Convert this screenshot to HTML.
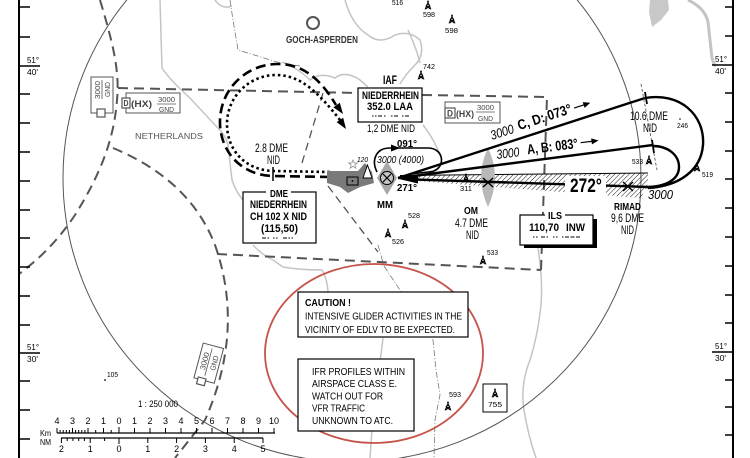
<!DOCTYPE html>
<html><head><meta charset="utf-8">
<style>
html,body{margin:0;padding:0;background:#fff;}
svg{display:block;}
text{font-family:"Liberation Sans Narrow","Liberation Sans",sans-serif;fill:#000;}
.b{font-weight:bold;}
.i{font-style:italic;}
</style></head><body>
<svg width="750" height="458" viewBox="0 0 750 458" xmlns="http://www.w3.org/2000/svg">
<defs>
<pattern id="hatch" patternUnits="userSpaceOnUse" width="3.4" height="3.4" patternTransform="rotate(45)">
<line x1="0" y1="0" x2="0" y2="3.4" stroke="#000" stroke-width="0.9"/>
</pattern>
<g id="ob">
<path d="M-3,4.5 L0,-3 L3,4.5 M-2.2,2 L2.2,2 M-1.5,-0.3 L1.5,-0.3 M-2,0 L2,4 M2,0 L-2,4" stroke="#000" stroke-width="0.9" fill="none"/>
<circle cx="0" cy="-3.6" r="0.9" fill="#000"/>
</g>
</defs>
<rect width="750" height="458" fill="#fff"/>

<!-- light gray rivers / coast -->
<g fill="none" stroke="#c4c4c4" stroke-width="1.5">
<path d="M160,0 L162,68 Q170,80 190,98 L215,125 Q226,135 228,145 L232,180 Q236,192 243,200"/>
<path d="M253,245 Q262,255 273,260 L283,267 Q300,270 322,270 Q327,278 328,292"/>
<path d="M383,338 Q381,357 377,380 Q372,405 372,430 L370,458"/>
<path d="M538,248 Q543,280 541,305 Q538,335 530,360 Q520,385 524,410 Q528,435 536,458"/>
<path d="M283,62 Q300,70 310,80 Q320,72 335,78 Q345,70 360,80 L368,87"/>
<path d="M345,0 Q352,25 368,35 Q380,45 395,35 Q410,30 420,40 Q425,55 415,65 Q405,75 400,84"/>
<path d="M215,0 Q222,10 232,6"/>
<path d="M408,30 Q417,50 420,63"/>
<path d="M423,125 Q435,140 442,160"/>
<path d="M688,0 Q705,8 708,22 L712,58 Q714,65 716,66" stroke-width="3"/>
</g>
<path d="M650,0 L668,0 L669,10 L661,20 L652,27 L649,12 Z" fill="#c8c8c8"/>
<!-- thin dash-dot borders -->
<g fill="none" stroke="#777" stroke-width="0.8" stroke-dasharray="6 2 1 2">
<path d="M230,0 L233,20 L238,50 L277,62 L300,66"/>
<path d="M378,245 L384,266 L400,290 L420,315 L433,340 L436,370 L440,395 L435,420 L434,458"/>
</g>

<!-- big thin circle -->
<ellipse cx="352" cy="178" rx="289" ry="284" fill="none" stroke="#555" stroke-width="1"/>

<!-- airspace dashed lines -->
<g fill="none" stroke="#555" stroke-width="2" stroke-dasharray="10 6">
<path d="M100,0 C112,40 120,70 117,100 C114,140 100,175 75,215 C55,245 35,262 19,274"/>
<path d="M118,88 L357,93 M422,95 L547,97 L541,270"/>
<path d="M217,254 L541,270"/>
<path d="M113,148 Q190,180 215,245 Q245,330 205,420 L175,458"/>
</g>
<g fill="none" stroke="#555" stroke-width="1.3" stroke-dasharray="8 5">
<path d="M323,93 L302,163"/>
<path d="M328,186 L378,252"/>
</g>

<!-- red ellipse -->
<ellipse cx="374" cy="353.5" rx="109" ry="89.5" fill="none" stroke="#c5534a" stroke-width="1.8"/>

<!-- holding loops -->
<path d="M330,177 L273,176 C238,175 219,148 220,120 C221,88 247,64 278,64 C302,64 320,78 336,105" fill="none" stroke="#000" stroke-width="2.6" stroke-dasharray="10 5"/>
<polygon points="343,114 333.4,107.4 339.8,102.8" fill="#000"/>
<path d="M330,172 L273,171 C245,170 227,150 227,124 C227,96 250,75 276,75 C298,75 315,88 340,120" fill="none" stroke="#000" stroke-width="2.6" stroke-dasharray="2.5 3"/>
<polygon points="346,129 336.6,122.1 343.2,117.7" fill="#000"/>
<line x1="273" y1="167" x2="273" y2="181" stroke="#000" stroke-width="1.5"/>

<!-- hatch wedge -->
<polygon points="402,176 648,173 648,183 641,198 402,180" fill="url(#hatch)"/>
<line x1="400" y1="175.5" x2="648" y2="173" stroke="#000" stroke-width="1"/>
<rect x="565" y="176" width="41" height="20" fill="#fff"/>

<!-- OM lens -->
<path d="M488,148 Q502,177 488,207 Q474,177 488,148 Z" fill="#b8b8b8"/>

<!-- airport -->
<polygon points="327,171 358,171 365,163 372,172 374,183 360,187 348,193 340,187 327,183" fill="#7a7a7a"/>
<rect x="347" y="177" width="11" height="8" fill="none" stroke="#000" stroke-width="1"/>
<circle cx="352.5" cy="181" r="0.9" fill="#000"/>
<polygon points="363,178 367.5,165 372,178" fill="#fff" stroke="#000" stroke-width="0.9"/>
<path d="M353,160 l1.2,3 3.2,0 -2.6,2 1,3.2 -2.8,-2 -2.8,2 1,-3.2 -2.6,-2 3.2,0 z" fill="none" stroke="#888" stroke-width="0.7"/>
<text x="357" y="162" font-size="7.5" class="i" textLength="11" lengthAdjust="spacingAndGlyphs">120</text>

<!-- MM -->
<polygon points="387,161 397,178 387,195 377,178" fill="#a8a8a8"/>
<circle cx="387" cy="178" r="6.5" fill="#c4c4c4" stroke="#000" stroke-width="1"/>
<path d="M383,174 L391,182 M391,174 L383,182" stroke="#000" stroke-width="1.2"/>

<!-- 091 racetrack -->
<path d="M377,172 C371,160 376,148 390,148 L428,148 C446,148 446,172 428,172 L410,174" fill="none" stroke="#000" stroke-width="1.6"/>
<polygon points="400,148 391,144.5 391,151.5" fill="#000"/>

<!-- approach lines -->
<g stroke="#000" stroke-width="2.4" fill="none">
<path d="M398,178 L645,98"/>
<path d="M398,178 L653,145"/>
<path d="M648,187 L606,185.6 M565,184.3 L412,179.4"/>
<path d="M645,98 C680,92 705,115 703,145 C701,170 680,186 648,188"/>
<path d="M653,146 C668,146 679,155 679,167 C679,180 665,187 645,187"/>
</g>
<polygon points="399,179 418,175 418,183.5" fill="#000"/>
<path d="M641,84 L657,170" stroke="#444" stroke-width="0.8" stroke-dasharray="3 2" fill="none"/>
<path d="M645,92 L647,104 M652,140 L654,153" stroke="#000" stroke-width="1.8"/>

<!-- X marks -->
<path d="M483,178 L493,187 M493,178 L483,187" stroke="#000" stroke-width="1.5"/>
<path d="M623,182 L633,191 M633,182 L623,191" stroke="#000" stroke-width="1.5"/>

<!-- rotated course texts -->
<g transform="translate(492,140) rotate(-18)">
<text x="0" y="0" font-size="13" class="i" textLength="24" lengthAdjust="spacingAndGlyphs">3000</text>
<text x="29" y="-1" font-size="14" class="b" textLength="56" lengthAdjust="spacingAndGlyphs">C, D: 073°</text>
<line x1="88" y1="-5" x2="100" y2="-5" stroke="#000" stroke-width="1.2"/>
<polygon points="105,-5 98,-8 98,-2" fill="#000"/>
</g>
<g transform="translate(497,159) rotate(-7)">
<text x="0" y="0" font-size="13" class="i" textLength="23" lengthAdjust="spacingAndGlyphs">3000</text>
<text x="31" y="-1" font-size="14" class="b" textLength="51" lengthAdjust="spacingAndGlyphs">A, B: 083°</text>
<line x1="85" y1="-6" x2="98" y2="-6" stroke="#000" stroke-width="1.2"/>
<polygon points="103,-6 96,-9 96,-3" fill="#000"/>
</g>
<text x="570" y="192" font-size="19" class="b" textLength="32" lengthAdjust="spacingAndGlyphs">272°</text>
<text x="648" y="199" font-size="12.5" class="i" textLength="25" lengthAdjust="spacingAndGlyphs">3000</text>

<!-- labels near MM -->
<text x="397" y="147" font-size="10.5" class="b" textLength="20" lengthAdjust="spacingAndGlyphs">091°</text>
<text x="377" y="163" font-size="10.5" class="i" textLength="47" lengthAdjust="spacingAndGlyphs">3000 (4000)</text>
<text x="397" y="191" font-size="10.5" class="b" textLength="20" lengthAdjust="spacingAndGlyphs">271°</text>
<text x="377" y="208" font-size="10" class="b" textLength="16" lengthAdjust="spacingAndGlyphs">MM</text>

<!-- OM / RIMAD / 10.6 labels -->
<text x="464" y="214" font-size="10" class="b" textLength="14" lengthAdjust="spacingAndGlyphs">OM</text>
<text x="455" y="227" font-size="11.5" textLength="33" lengthAdjust="spacingAndGlyphs">4.7 DME</text>
<text x="466" y="239" font-size="11.5" textLength="13" lengthAdjust="spacingAndGlyphs">NID</text>
<text x="614" y="210" font-size="10" class="b" textLength="27" lengthAdjust="spacingAndGlyphs">RIMAD</text>
<text x="611" y="222" font-size="11.5" textLength="33" lengthAdjust="spacingAndGlyphs">9,6 DME</text>
<text x="621" y="234" font-size="11.5" textLength="13" lengthAdjust="spacingAndGlyphs">NID</text>
<text x="630" y="120" font-size="11.5" textLength="38" lengthAdjust="spacingAndGlyphs">10.6 DME</text>
<text x="643" y="132" font-size="11.5" textLength="14" lengthAdjust="spacingAndGlyphs">NID</text>
<text x="255" y="152" font-size="11.5" textLength="33" lengthAdjust="spacingAndGlyphs">2.8 DME</text>
<text x="267" y="164" font-size="11.5" textLength="13" lengthAdjust="spacingAndGlyphs">NID</text>

<!-- obstacles -->
<g font-size="7">
<use href="#ob" x="428" y="5"/><text x="423" y="17" textLength="12" lengthAdjust="spacingAndGlyphs">598</text>
<use href="#ob" x="452" y="19"/><text x="445" y="33" textLength="13" lengthAdjust="spacingAndGlyphs">598</text>
<text x="392" y="5" textLength="11" lengthAdjust="spacingAndGlyphs">516</text>
<use href="#ob" x="421" y="75"/><text x="423" y="69" textLength="12" lengthAdjust="spacingAndGlyphs">742</text>
<use href="#ob" x="466" y="178"/><text x="460" y="191" textLength="12" lengthAdjust="spacingAndGlyphs">311</text>
<use href="#ob" x="649" y="160"/><text x="632" y="164" textLength="11" lengthAdjust="spacingAndGlyphs">533</text>
<circle cx="680" cy="119" r="0.8" fill="#000"/><text x="677" y="128" textLength="11" lengthAdjust="spacingAndGlyphs">246</text>
<use href="#ob" x="697" y="167"/><text x="702" y="177" textLength="11" lengthAdjust="spacingAndGlyphs">519</text>
<use href="#ob" x="405" y="224"/><text x="408" y="218" textLength="12" lengthAdjust="spacingAndGlyphs">528</text>
<use href="#ob" x="388" y="233"/><text x="392" y="244" textLength="12" lengthAdjust="spacingAndGlyphs">526</text>
<use href="#ob" x="483" y="260"/><text x="487" y="255" textLength="11" lengthAdjust="spacingAndGlyphs">533</text>
<use href="#ob" x="448" y="406"/><text x="449" y="397" textLength="12" lengthAdjust="spacingAndGlyphs">593</text>
<circle cx="105" cy="380" r="0.9" fill="#000"/><text x="107" y="377" textLength="11" lengthAdjust="spacingAndGlyphs">105</text>
</g>
<rect x="483" y="384" width="24" height="28" fill="#fff" stroke="#000" stroke-width="1"/>
<use href="#ob" x="495" y="393"/>
<text x="488" y="407" font-size="7.5" textLength="14" lengthAdjust="spacingAndGlyphs">755</text>

<!-- GOCH -->
<circle cx="313" cy="23" r="6" fill="none" stroke="#555" stroke-width="2"/>
<text x="286" y="43" font-size="10.5" class="b" style="fill:#333" textLength="72" lengthAdjust="spacingAndGlyphs">GOCH-ASPERDEN</text>
<text x="135" y="139" font-size="8.5" style="fill:#555" textLength="68" lengthAdjust="spacingAndGlyphs">NETHERLANDS</text>

<!-- IAF box -->
<text x="383" y="84" font-size="12" class="b" textLength="14" lengthAdjust="spacingAndGlyphs">IAF</text>
<rect x="358" y="88" width="64" height="34" fill="#fff" stroke="#000" stroke-width="1.2"/>
<text x="362" y="99" font-size="11" class="b" textLength="57" lengthAdjust="spacingAndGlyphs">NIEDERRHEIN</text>
<text x="367" y="110" font-size="11" class="b" textLength="46" lengthAdjust="spacingAndGlyphs">352.0  LAA</text>
<path d="M372,116h1.5 M375,116h1.5 M378,116h4 M384,116h1.5 M391,116h1.5 M394,116h4 M402,116h1.5 M405,116h4" stroke="#000" stroke-width="1"/>
<text x="367" y="132" font-size="11" textLength="48" lengthAdjust="spacingAndGlyphs">1,2 DME NID</text>

<!-- DME box -->
<rect x="243" y="192" width="73" height="51" fill="#fff" stroke="#000" stroke-width="1.2"/>
<rect x="266" y="188" width="25" height="8" fill="#fff"/>
<text x="270" y="197" font-size="10.5" class="b" textLength="18" lengthAdjust="spacingAndGlyphs">DME</text>
<text x="250" y="208" font-size="11" class="b" textLength="57" lengthAdjust="spacingAndGlyphs">NIEDERRHEIN</text>
<text x="250" y="220" font-size="11" class="b" textLength="57" lengthAdjust="spacingAndGlyphs">CH 102 X NID</text>
<text x="261" y="232" font-size="11" class="b" textLength="37" lengthAdjust="spacingAndGlyphs">(115,50)</text>
<path d="M262,238h4 M267.5,238h1.5 M273,238h1.5 M276,238h1.5 M283,238h4 M288.5,238h1.5 M291.5,238h1.5" stroke="#000" stroke-width="1"/>

<!-- ILS box -->
<rect x="524" y="219" width="73" height="29" fill="#000"/>
<rect x="520" y="215" width="73" height="30" fill="#fff" stroke="#000" stroke-width="1.2"/>
<rect x="545" y="210" width="20" height="7" fill="#fff"/>
<text x="548" y="219" font-size="10.5" class="b" textLength="14" lengthAdjust="spacingAndGlyphs">ILS</text>
<text x="529" y="231" font-size="11" class="b" textLength="30" lengthAdjust="spacingAndGlyphs">110,70</text>
<text x="566" y="231" font-size="11" class="b" textLength="19" lengthAdjust="spacingAndGlyphs">INW</text>
<path d="M533,237h1.5 M536,237h1.5 M541,237h4 M546.5,237h1.5 M553,237h1.5 M556,237h1.5 M562,237h1.5 M565,237h4 M570.5,237h4 M576,237h4" stroke="#000" stroke-width="1"/>

<!-- D(HX) boxes -->
<g stroke="#555" stroke-width="1" fill="#fff">
<rect x="126" y="93" width="54" height="20"/>
<rect x="445" y="102" width="55" height="21"/>
<rect x="91" y="77" width="22" height="36"/>
</g>
<g stroke="#555" stroke-width="1.2" fill="#fff">
<rect x="122" y="98" width="8" height="10"/>
<rect x="445" y="108" width="10" height="10"/>
<rect x="97" y="109" width="8" height="8"/>
</g>
<g>
<text x="123.5" y="106" font-size="8" class="b" style="fill:#444" textLength="5" lengthAdjust="spacingAndGlyphs">D</text>
<text x="131" y="107" font-size="9.5" class="b" style="fill:#444" textLength="21" lengthAdjust="spacingAndGlyphs">(HX)</text>
<text x="158" y="102" font-size="7.5" style="fill:#444" textLength="17" lengthAdjust="spacingAndGlyphs">3000</text>
<text x="159" y="112" font-size="7.5" style="fill:#444" textLength="15" lengthAdjust="spacingAndGlyphs">GND</text>
<text x="447" y="116.5" font-size="9" class="b" style="fill:#444" textLength="6" lengthAdjust="spacingAndGlyphs">D</text>
<text x="456" y="117" font-size="9.5" class="b" style="fill:#444" textLength="18" lengthAdjust="spacingAndGlyphs">(HX)</text>
<text x="477" y="110" font-size="7.5" style="fill:#444" textLength="17" lengthAdjust="spacingAndGlyphs">3000</text>
<text x="478" y="121" font-size="7.5" style="fill:#444" textLength="15" lengthAdjust="spacingAndGlyphs">GND</text>
<text transform="translate(100,99) rotate(-90)" font-size="7.5" style="fill:#444" textLength="18" lengthAdjust="spacingAndGlyphs">3000</text>
<text transform="translate(110,97) rotate(-90)" font-size="7.5" style="fill:#444" textLength="15" lengthAdjust="spacingAndGlyphs">GND</text>
</g>
<path d="M157,104 H176 M476,112 H495 M102,80 V99" stroke="#555" stroke-width="0.8"/>
<g transform="translate(208,364) rotate(15)">
<rect x="-10" y="-19" width="21" height="36" fill="#fff" stroke="#555" stroke-width="1"/>
<rect x="-6" y="15" width="8" height="7" fill="#fff" stroke="#555" stroke-width="1.2"/>
<line x1="0" y1="-16" x2="0" y2="12" stroke="#555" stroke-width="0.8"/>
<text transform="translate(-1.5,7) rotate(-90)" font-size="7.5" style="fill:#444" textLength="18" lengthAdjust="spacingAndGlyphs">3000</text>
<text transform="translate(8.5,5) rotate(-90)" font-size="7.5" style="fill:#444" textLength="15" lengthAdjust="spacingAndGlyphs">GND</text>
</g>

<!-- Caution boxes -->
<rect x="298" y="292" width="170" height="45" fill="#fff" stroke="#000" stroke-width="1.2"/>
<text x="305" y="306" font-size="10.5" class="b" textLength="46" lengthAdjust="spacingAndGlyphs">CAUTION !</text>
<text x="305" y="319.5" font-size="10.5" textLength="157" lengthAdjust="spacingAndGlyphs">INTENSIVE GLIDER ACTIVITIES IN THE</text>
<text x="305" y="333" font-size="10.5" textLength="150" lengthAdjust="spacingAndGlyphs">VICINITY OF EDLV TO BE EXPECTED.</text>
<rect x="298" y="359" width="116" height="72" fill="#fff" stroke="#000" stroke-width="1.2"/>
<g font-size="10.5">
<text x="312" y="375" textLength="93" lengthAdjust="spacingAndGlyphs">IFR PROFILES WITHIN</text>
<text x="312" y="387" textLength="85" lengthAdjust="spacingAndGlyphs">AIRSPACE CLASS E.</text>
<text x="312" y="399.5" textLength="71" lengthAdjust="spacingAndGlyphs">WATCH OUT FOR</text>
<text x="312" y="411.5" textLength="53" lengthAdjust="spacingAndGlyphs">VFR TRAFFIC</text>
<text x="312" y="424" textLength="81" lengthAdjust="spacingAndGlyphs">UNKNOWN TO ATC.</text>
</g>

<!-- borders and ticks -->
<g stroke="#000" fill="none">
<line x1="19" y1="0" x2="19" y2="458" stroke-width="2"/>
<line x1="733" y1="0" x2="733" y2="458" stroke-width="2"/>
<path stroke-width="1.5" d="M19,7h11 M19,37h11 M19,94h11 M19,123h11 M19,152h11 M19,181h11 M19,210h11 M19,238h11 M19,267h11 M19,296h11 M19,325h11 M19,381h11 M19,410h11 M19,439h11 M19,66h21 M19,353h21"/>
<path stroke-width="1.5" d="M725,7h8 M725,36h8 M725,93h8 M725,122h8 M725,151h8 M725,179h8 M725,208h8 M725,237h8 M725,266h8 M725,295h8 M725,323h8 M725,380h8 M725,407h8 M725,435h8 M712,65h21 M712,352h21"/>
</g>
<g font-size="8.5">
<text x="27" y="63" textLength="12" lengthAdjust="spacingAndGlyphs">51°</text>
<text x="27" y="75" textLength="11" lengthAdjust="spacingAndGlyphs">40'</text>
<text x="27" y="350" textLength="12" lengthAdjust="spacingAndGlyphs">51°</text>
<text x="27" y="362" textLength="11" lengthAdjust="spacingAndGlyphs">30'</text>
<text x="715" y="62" textLength="12" lengthAdjust="spacingAndGlyphs">51°</text>
<text x="715" y="74" textLength="11" lengthAdjust="spacingAndGlyphs">40'</text>
<text x="715" y="349" textLength="12" lengthAdjust="spacingAndGlyphs">51°</text>
<text x="715" y="361" textLength="11" lengthAdjust="spacingAndGlyphs">30'</text>
</g>

<!-- scale -->
<text x="138" y="407" font-size="9" textLength="40" lengthAdjust="spacingAndGlyphs">1 : 250 000</text>
<g stroke="#000" fill="none" stroke-width="1">
<line x1="57" y1="433" x2="275" y2="433" stroke-width="1.3"/>
<path d="M57,433v-5 M72.5,433v-5 M88,433v-5 M103.5,433v-5 M119,433v-6 M134.5,433v-5 M150,433v-5 M165.5,433v-5 M181,433v-5 M196.5,433v-5 M212,433v-5 M227.5,433v-5 M243,433v-5 M258.5,433v-5 M274,433v-5"/>
<path d="M60.1,433v-3 M63.2,433v-3 M66.3,433v-3 M69.4,433v-3 M75.6,433v-3 M78.7,433v-3 M81.8,433v-3 M84.9,433v-3 M95.7,433v-3 M111.2,433v-3"/>
<line x1="61" y1="438" x2="263" y2="438" stroke-width="1.3"/>
<path d="M61.4,438v5 M90.2,438v5 M119,438v6 M147.8,438v5 M176.6,438v5 M205.4,438v5 M234.2,438v5 M263,438v5"/>
<path d="M67.2,438v3 M72.9,438v3 M78.7,438v3 M84.4,438v3 M104.6,438v3"/>
</g>
<g font-size="9" text-anchor="middle">
<text x="57" y="424">4</text><text x="72.5" y="424">3</text><text x="88" y="424">2</text><text x="103.5" y="424">1</text>
<text x="119" y="424">0</text><text x="134.5" y="424">1</text><text x="150" y="424">2</text><text x="165.5" y="424">3</text>
<text x="181" y="424">4</text><text x="196.5" y="424">5</text><text x="212" y="424">6</text><text x="227.5" y="424">7</text>
<text x="243" y="424">8</text><text x="258.5" y="424">9</text><text x="274" y="424">10</text>
<text x="61.4" y="452">2</text><text x="90.2" y="452">1</text><text x="119" y="452">0</text><text x="147.8" y="452">1</text>
<text x="176.6" y="452">2</text><text x="205.4" y="452">3</text><text x="234.2" y="452">4</text><text x="263" y="452">5</text>
</g>
<text x="40" y="436" font-size="8" textLength="11" lengthAdjust="spacingAndGlyphs">Km</text>
<text x="40" y="445" font-size="8" textLength="11" lengthAdjust="spacingAndGlyphs">NM</text>
</svg>
</body></html>
